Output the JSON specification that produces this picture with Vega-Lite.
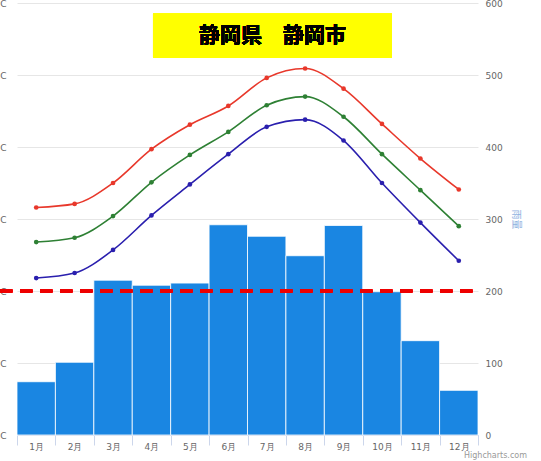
{
  "$schema": "https://vega.github.io/schema/vega-lite/v6.json",
  "autosize": {"type": "none"},
  "width": 461,
  "height": 432,
  "padding": {"left": 17, "top": 3, "right": 63, "bottom": 26},
  "background": "white",
  "title": {
    "text": "Highcharts.com",
    "orient": "bottom",
    "anchor": "end",
    "frame": "group",
    "fontSize": 8,
    "fontWeight": "normal",
    "color": "#999999",
    "font": "DejaVu Sans",
    "dx": 49,
    "offset": 1
  },
  "config": {
    "view": {"stroke": null},
    "axis": {
      "labelFont": "DejaVu Sans",
      "titleFont": "Noto Sans CJK JP",
      "labelColor": "#666666",
      "labelFontSize": 9,
      "gridColor": "#e6e6e6",
      "domain": false,
      "ticks": false
    }
  },
  "datasets": {
    "rain": [
      {"month": 1, "mm": 74},
      {"month": 2, "mm": 101},
      {"month": 3, "mm": 215},
      {"month": 4, "mm": 208},
      {"month": 5, "mm": 211},
      {"month": 6, "mm": 292},
      {"month": 7, "mm": 276},
      {"month": 8, "mm": 249},
      {"month": 9, "mm": 291},
      {"month": 10, "mm": 199},
      {"month": 11, "mm": 131},
      {"month": 12, "mm": 62}
    ],
    "temp": [
      {"month": 1, "kind": "最高気温", "t": 11.6},
      {"month": 2, "kind": "最高気温", "t": 12.1},
      {"month": 3, "kind": "最高気温", "t": 15.0},
      {"month": 4, "kind": "最高気温", "t": 19.7},
      {"month": 5, "kind": "最高気温", "t": 23.1},
      {"month": 6, "kind": "最高気温", "t": 25.7},
      {"month": 7, "kind": "最高気温", "t": 29.6},
      {"month": 8, "kind": "最高気温", "t": 30.9},
      {"month": 9, "kind": "最高気温", "t": 28.1},
      {"month": 10, "kind": "最高気温", "t": 23.2},
      {"month": 11, "kind": "最高気温", "t": 18.4},
      {"month": 12, "kind": "最高気温", "t": 14.1},
      {"month": 1, "kind": "平均気温", "t": 6.8},
      {"month": 2, "kind": "平均気温", "t": 7.4},
      {"month": 3, "kind": "平均気温", "t": 10.4},
      {"month": 4, "kind": "平均気温", "t": 15.1},
      {"month": 5, "kind": "平均気温", "t": 18.9},
      {"month": 6, "kind": "平均気温", "t": 22.1},
      {"month": 7, "kind": "平均気温", "t": 25.8},
      {"month": 8, "kind": "平均気温", "t": 27.0},
      {"month": 9, "kind": "平均気温", "t": 24.2},
      {"month": 10, "kind": "平均気温", "t": 19.0},
      {"month": 11, "kind": "平均気温", "t": 14.0},
      {"month": 12, "kind": "平均気温", "t": 9.0},
      {"month": 1, "kind": "最低気温", "t": 1.8},
      {"month": 2, "kind": "最低気温", "t": 2.5},
      {"month": 3, "kind": "最低気温", "t": 5.7},
      {"month": 4, "kind": "最低気温", "t": 10.5},
      {"month": 5, "kind": "最低気温", "t": 14.8},
      {"month": 6, "kind": "最低気温", "t": 19.0},
      {"month": 7, "kind": "最低気温", "t": 22.8},
      {"month": 8, "kind": "最低気温", "t": 23.8},
      {"month": 9, "kind": "最低気温", "t": 20.9},
      {"month": 10, "kind": "最低気温", "t": 15.0},
      {"month": 11, "kind": "最低気温", "t": 9.5},
      {"month": 12, "kind": "最低気温", "t": 4.2}
    ]
  },
  "encoding": {
    "x": {
      "field": "month",
      "type": "quantitative",
      "scale": {"domain": [0.5, 12.5], "nice": false, "zero": false, "padding": 0},
      "axis": {
        "title": null,
        "values": [0.5, 1.5, 2.5, 3.5, 4.5, 5.5, 6.5, 7.5, 8.5, 9.5, 10.5, 11.5, 12.5],
        "labelExpr": "datum.value < 12 ? format(datum.value + 0.5, 'd') + '月' : ''",
        "labelOffset": 19.2,
        "labelAlign": "center",
        "labelOverlap": false,
        "labelBound": false,
        "labelFlush": false,
        "labelPadding": -3,
        "tickCount": 13,
        "grid": false,
        "domain": true,
        "domainColor": "#ccd6eb",
        "ticks": true,
        "tickColor": "#ccd6eb",
        "tickSize": 10
      }
    }
  },
  "layer": [
    {
      "data": {"name": "rain"},
      "layer": [
        {
          "mark": {"type": "bar", "width": {"expr": "width / 12"}, "color": "#1a86e2", "stroke": "#ffffff", "strokeWidth": 1, "strokeOpacity": 0.8},
          "encoding": {
            "y": {
              "field": "mm",
              "type": "quantitative",
              "scale": {"domain": [0, 600], "nice": false},
              "axis": {
                "orient": "right",
                "title": "雨量",
                "titleColor": "#8fb3df",
                "titleFontSize": 10,
                "titleFontWeight": "normal",
                "titlePadding": 8,
                "values": [0, 100, 200, 300, 400, 500, 600],
                "labelPadding": 7,
                "grid": true
              }
            }
          }
        },
        {
          "mark": {"type": "rect", "color": "#ffff00"},
          "encoding": {
            "x": {"datum": 4.04, "type": "quantitative"},
            "x2": {"datum": 10.26},
            "y": {"datum": 585, "type": "quantitative"},
            "y2": {"datum": 524}
          }
        },
        {
          "mark": {"type": "text", "text": "静岡県　静岡市", "font": "Noto Sans CJK JP", "fontWeight": "bold", "fontSize": 21, "color": "#000000", "align": "center", "baseline": "middle"},
          "encoding": {
            "x": {"datum": 7.15, "type": "quantitative"},
            "y": {"datum": 554.5, "type": "quantitative"}
          }
        }
      ]
    },
    {
      "data": {"name": "temp"},
      "encoding": {
        "y": {
          "field": "t",
          "type": "quantitative",
          "scale": {"domain": [-20, 40], "nice": false, "zero": false},
          "axis": {
            "orient": "left",
            "title": null,
            "values": [-20, -10, 0, 10, 20, 30, 40],
            "labelExpr": "datum.value + '°C'",
            "labelPadding": 11,
            "grid": false
          }
        },
        "color": {
          "field": "kind",
          "type": "nominal",
          "scale": {"domain": ["最高気温", "平均気温", "最低気温"], "range": ["#e8382b", "#2e8034", "#2a1fae"]},
          "legend": null
        }
      },
      "layer": [
        {
          "mark": {"type": "rule", "color": "#ee0000", "strokeWidth": 3, "strokeDash": [12, 8]},
          "encoding": {
            "x": {"datum": 0.06, "type": "quantitative"},
            "x2": {"datum": 12.5},
            "y": {"datum": 0, "type": "quantitative"},
            "color": {"value": "#ee0000"}
          }
        },
        {
          "mark": {"type": "line", "interpolate": "monotone", "strokeWidth": 1.6}
        },
        {
          "mark": {"type": "point", "filled": true, "size": 22, "opacity": 1}
        }
      ]
    }
  ],
  "resolve": {"scale": {"y": "independent"}}
}
